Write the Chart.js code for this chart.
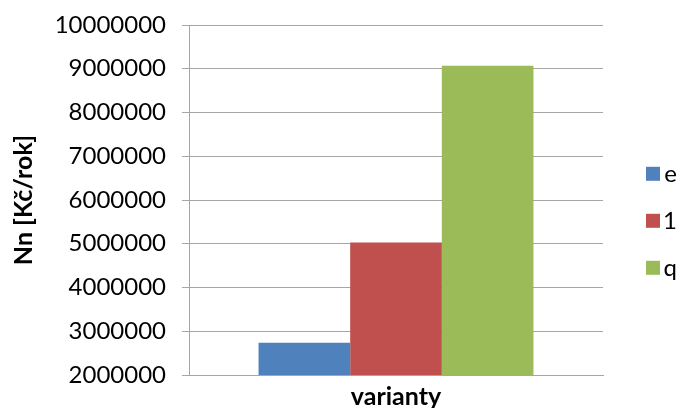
<!DOCTYPE html>
<html>
<head>
<meta charset="utf-8">
<script src="https://cdn.jsdelivr.net/npm/chart.js@4"></script>
<style>
  body { margin: 0; background: #fff; }
  canvas { display: block; }
</style>
</head>
<body>
<canvas id="chart" width="683" height="408"></canvas>
<script>
const categories = [''];
const seriesNames = ['e', '1', 'q'];
const seriesValues = [[2740000], [5030000], [9070000]];
const seriesColors = ['#4F81BD', '#C0504D', '#9BBB59'];
const yMin = 2000000, yMax = 10000000, yStep = 1000000;

const gridColor = '#a6a6a6';
const fontFamily = 'Lato, "Open Sans", sans-serif';

new Chart(document.getElementById('chart').getContext('2d'), {
    type: 'bar',
    data: {
        labels: categories,
        datasets: seriesNames.map((name, i) => ({
            label: name,
            data: seriesValues[i],
            backgroundColor: seriesColors[i],
            borderWidth: 0
        }))
    },
    options: {
        responsive: false,
        animation: false,
        categoryPercentage: 0.664,
        barPercentage: 1,
        layout: { padding: { top: 6, right: 6, bottom: 0, left: 8 } },
        plugins: {
            tooltip: { enabled: false },
            legend: {
                position: 'right',
                maxWidth: 54,
                title: { display: true, text: ' ', padding: 0, font: { size: 23 } },
                labels: {
                    boxWidth: 14,
                    boxHeight: 14,
                    padding: 23,
                    textAlign: 'right',
                    color: '#000',
                    font: { family: fontFamily, size: 24 }
                }
            }
        },
        scales: {
            x: {
                grid: { display: false, drawTicks: false },
                border: { display: true, color: gridColor },
                ticks: { display: false },
                title: {
                    display: true,
                    text: 'varianty',
                    color: '#000',
                    padding: { top: 7, bottom: -4 },
                    font: { family: fontFamily, size: 25, weight: 'bold' }
                }
            },
            y: {
                min: yMin,
                max: yMax,
                grid: { color: gridColor, tickLength: 7 },
                border: { display: true, color: gridColor },
                ticks: {
                    stepSize: yStep,
                    padding: 16,
                    color: '#000',
                    font: { family: fontFamily, size: 24 },
                    callback: v => String(v)
                },
                title: {
                    display: true,
                    text: 'Nn [Kč/rok]',
                    color: '#000',
                    padding: { top: 1, bottom: 18 },
                    font: { family: fontFamily, size: 25, weight: 'bold' }
                },
                afterFit: scale => {
                    scale.width = 181;
                    scale.paddingTop = 25;
                }
            },
            // empty spacer between plot and legend
            yGap: {
                type: 'linear',
                position: 'right',
                grid: { display: false, drawTicks: false },
                border: { display: false },
                ticks: { display: false },
                afterFit: scale => { scale.width = 20; }
            }
        }
    }
});
</script>
</body>
</html>
